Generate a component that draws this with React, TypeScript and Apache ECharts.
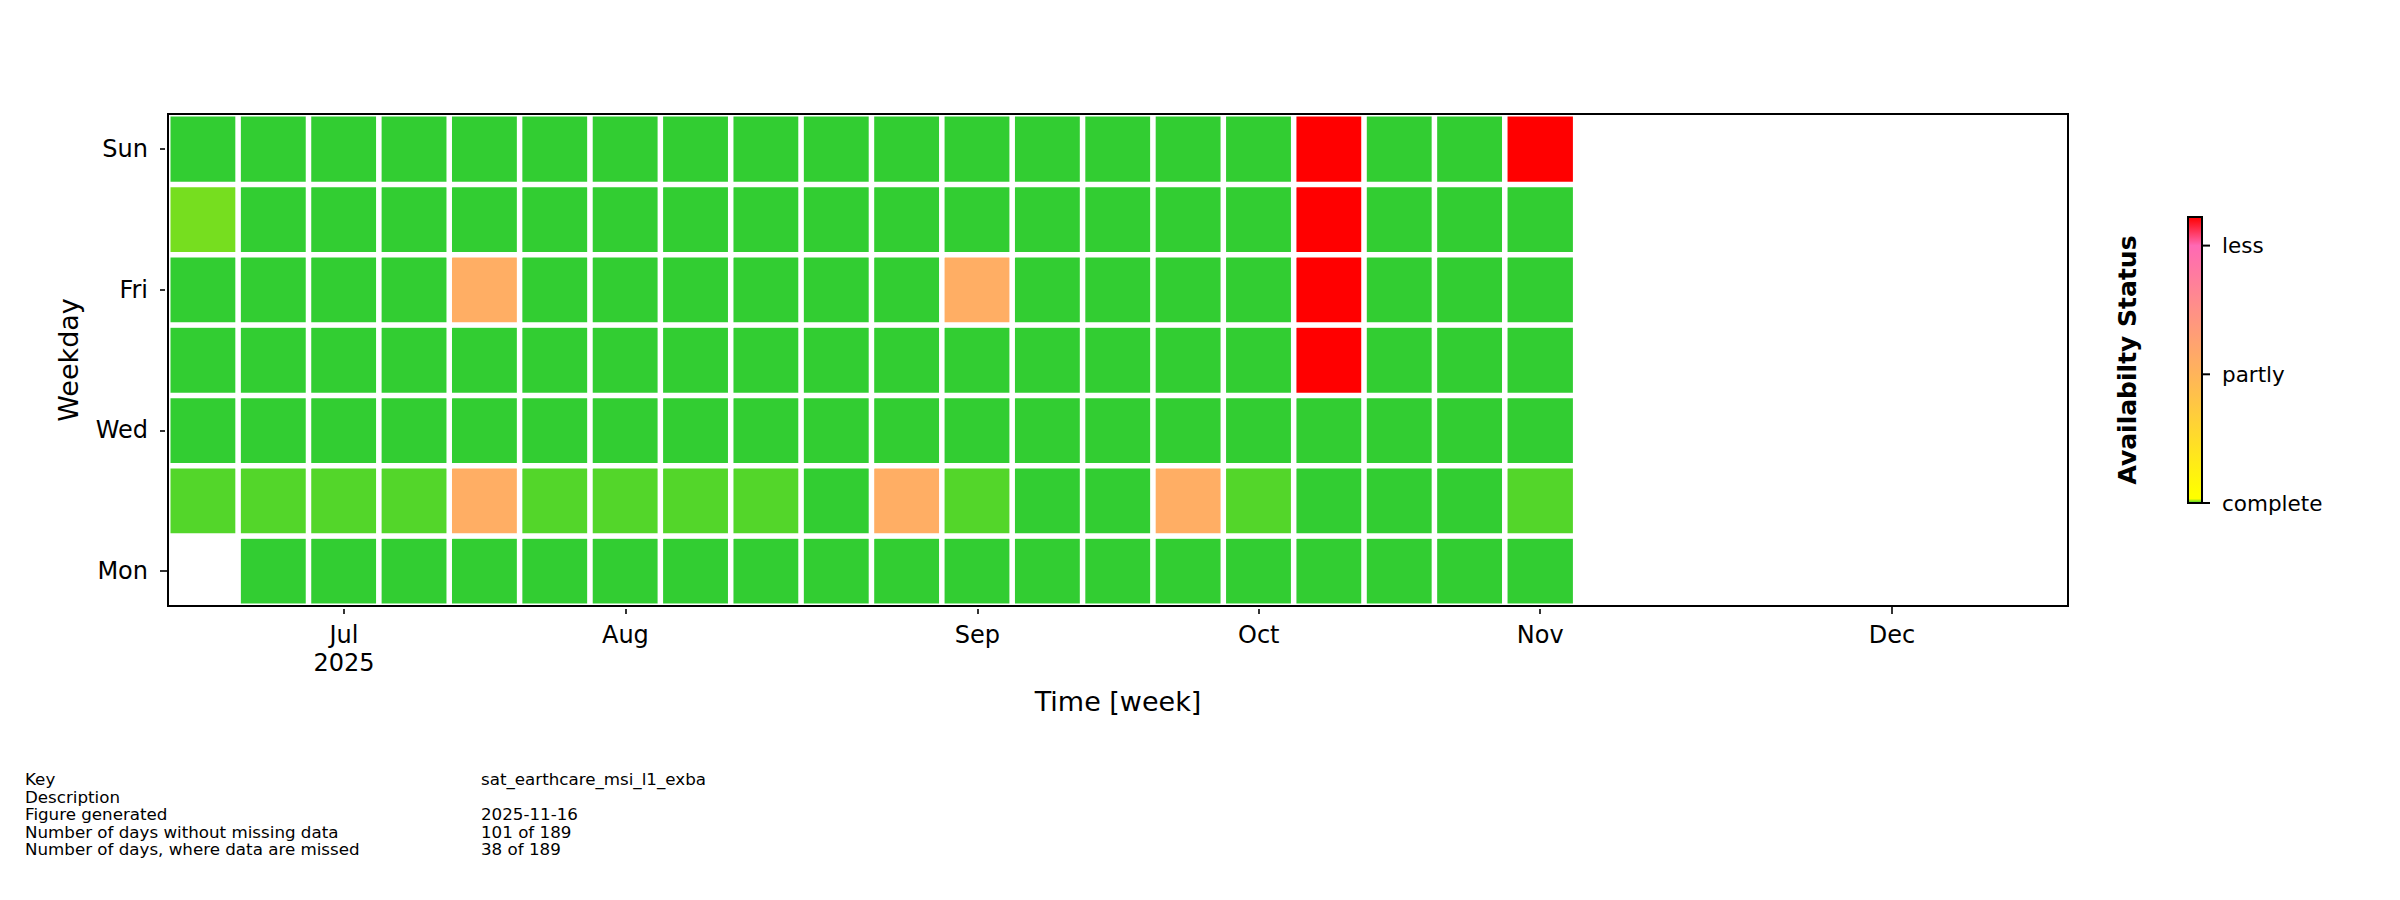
import React, { useEffect, useRef } from "react";
import * as echarts from "echarts";

// ---------- data ----------
const weekdays = ["Mon", "Tue", "Wed", "Thu", "Fri", "Sat", "Sun"];

const weekStarts = [
  "2025-06-16", "2025-06-23", "2025-06-30", "2025-07-07", "2025-07-14", "2025-07-21",
  "2025-07-28", "2025-08-04", "2025-08-11", "2025-08-18", "2025-08-25", "2025-09-01",
  "2025-09-08", "2025-09-15", "2025-09-22", "2025-09-29", "2025-10-06", "2025-10-13",
  "2025-10-20", "2025-10-27", "2025-11-03", "2025-11-10", "2025-11-17", "2025-11-24",
  "2025-12-01", "2025-12-08", "2025-12-15",
];

const monthTickWeeks = ["2025-06-30", "2025-07-28", "2025-09-01", "2025-09-29", "2025-10-27", "2025-12-01"];
const monthTickLabels = ["Jul\n2025", "Aug", "Sep", "Oct", "Nov", "Dec"];

// status codes: 0 complete, 1 / 2 nearly complete, 3 partly, 4 less
const statusMon = [null, 0, 0, 0, 0, 0, 0, 0, 0, 0, 0, 0, 0, 0, 0, 0, 0, 0, 0, 0];
const statusTue = [1, 1, 1, 1, 3, 1, 1, 1, 1, 0, 3, 1, 0, 0, 3, 1, 0, 0, 0, 1];
const statusWed = [0, 0, 0, 0, 0, 0, 0, 0, 0, 0, 0, 0, 0, 0, 0, 0, 0, 0, 0, 0];
const statusThu = [0, 0, 0, 0, 0, 0, 0, 0, 0, 0, 0, 0, 0, 0, 0, 0, 4, 0, 0, 0];
const statusFri = [0, 0, 0, 0, 3, 0, 0, 0, 0, 0, 0, 3, 0, 0, 0, 0, 4, 0, 0, 0];
const statusSat = [2, 0, 0, 0, 0, 0, 0, 0, 0, 0, 0, 0, 0, 0, 0, 0, 4, 0, 0, 0];
const statusSun = [0, 0, 0, 0, 0, 0, 0, 0, 0, 0, 0, 0, 0, 0, 0, 0, 4, 0, 0, 4];

const statusColors = ["#32CD32", "#53D62A", "#76DE1F", "#FFAE64", "#FF0000"];

const colorbarLabels = ["complete", "partly", "less"];

const infoKeys = [
  "Key",
  "Description",
  "Figure generated",
  "Number of days without missing data",
  "Number of days, where data are missed",
];
const infoValues = ["sat_earthcare_msi_l1_exba", "", "2025-11-16", "101 of 189", "38 of 189"];

// ---------- chart ----------
const FONT = "DejaVu Sans";

export default function App() {
  const ref = useRef<HTMLDivElement>(null);

  useEffect(() => {
    if (!ref.current) return;
    const chart = echarts.init(ref.current, undefined, { renderer: "svg" });

    const rows = [statusMon, statusTue, statusWed, statusThu, statusFri, statusSat, statusSun];
    const data: number[][] = [];
    rows.forEach((row, yi) => {
      row.forEach((s, xi) => {
        if (s !== null && s !== undefined) data.push([xi, yi, s as number]);
      });
    });

    const tickIdx = monthTickWeeks.map((w) => weekStarts.indexOf(w));
    const showTick = (i: number) => tickIdx.indexOf(i) >= 0;

    // grid geometry
    const gL = 168, gT = 114, gW = 1900, gH = 492;
    // colorbar geometry
    const cbX = 2188, cbY = 217, cbW = 14, cbH = 286;
    const cbTickY = [cbY + cbH, cbY + cbH * 0.55, cbY + cbH * 0.1];

    const graphics: any[] = [
      {
        type: "rect",
        z: 100,
        shape: { x: gL, y: gT, width: gW, height: gH },
        style: { fill: "none", stroke: "#000", lineWidth: 2 },
      },
      {
        type: "rect",
        z: 100,
        shape: { x: cbX, y: cbY, width: cbW, height: cbH },
        style: {
          fill: new echarts.graphic.LinearGradient(0, 0, 0, 1, [
            { offset: 0, color: "#FF0000" },
            { offset: 0.1, color: "#FF69B4" },
            { offset: 0.3, color: "#FF8C8C" },
            { offset: 0.55, color: "#FFB45A" },
            { offset: 0.97, color: "#FFFF00" },
            { offset: 0.985, color: "#FFFF00" },
            { offset: 1, color: "#32CD32" },
          ]),
          stroke: "#000",
          lineWidth: 2,
        },
      },
      {
        type: "text",
        z: 100,
        x: 2127,
        y: 360,
        rotation: Math.PI / 2,
        style: {
          text: "Availabilty Status",
          font: `bold 25px "${FONT}"`,
          fill: "#000",
          align: "center",
          verticalAlign: "middle",
        },
      },
    ];

    colorbarLabels.forEach((lbl, i) => {
      graphics.push({
        type: "line",
        z: 100,
        shape: { x1: cbX + cbW, y1: cbTickY[i], x2: cbX + cbW + 8, y2: cbTickY[i] },
        style: { stroke: "#000", lineWidth: 2 },
      });
      graphics.push({
        type: "text",
        z: 100,
        x: 2222,
        y: cbTickY[i],
        style: {
          text: lbl,
          font: `21.5px "${FONT}"`,
          fill: "#000",
          align: "left",
          verticalAlign: "middle",
        },
      });
    });

    infoKeys.forEach((k, i) => {
      const y = 779 + i * 17.6;
      graphics.push({
        type: "text",
        x: 25,
        y,
        style: { text: k, font: `16.7px "${FONT}"`, fill: "#000", align: "left", verticalAlign: "middle" },
      });
      graphics.push({
        type: "text",
        x: 481,
        y,
        style: { text: infoValues[i], font: `16.7px "${FONT}"`, fill: "#000", align: "left", verticalAlign: "middle" },
      });
    });

    chart.setOption({
      animation: false,
      backgroundColor: "#fff",
      textStyle: { fontFamily: FONT },
      grid: { left: gL, top: gT, width: gW, height: gH, containLabel: false, outerBoundsMode: "none" },
      xAxis: {
        type: "category",
        data: weekStarts,
        boundaryGap: true,
        name: "Time [week]",
        nameLocation: "middle",
        nameGap: 82,
        nameTextStyle: { fontSize: 27, color: "#000", fontFamily: FONT },
        axisLine: { show: true, lineStyle: { color: "#000", width: 2 } },
        axisTick: {
          show: true,
          alignWithLabel: true,
          interval: (i: number) => showTick(i),
          length: 8,
          lineStyle: { color: "#000", width: 1.6 },
        },
        axisLabel: {
          interval: (i: number) => showTick(i),
          formatter: (v: string, i: number) => {
            const k = tickIdx.indexOf(i);
            return k >= 0 ? monthTickLabels[k] : "";
          },
          fontSize: 24,
          lineHeight: 28,
          color: "#000",
          margin: 15,
          fontFamily: FONT,
        },
        splitLine: { show: false },
      },
      yAxis: {
        type: "category",
        data: weekdays,
        boundaryGap: true,
        name: "Weekday",
        nameLocation: "middle",
        nameGap: 86,
        nameTextStyle: { fontSize: 27, color: "#000", fontFamily: FONT },
        axisLine: { show: true, lineStyle: { color: "#000", width: 2 } },
        axisTick: {
          show: true,
          alignWithLabel: true,
          interval: 1,
          length: 8,
          lineStyle: { color: "#000", width: 1.6 },
        },
        axisLabel: { interval: 1, fontSize: 24, color: "#000", margin: 20, fontFamily: FONT },
        splitLine: { show: false },
      },
      visualMap: {
        type: "piecewise",
        show: false,
        dimension: 2,
        seriesIndex: 0,
        pieces: statusColors.map((c, i) => ({ value: i, color: c })),
      },
      series: [
        {
          type: "heatmap",
          data,
          itemStyle: { borderColor: "#fff", borderWidth: 5.5 },
          emphasis: { disabled: true },
        },
      ],
      graphic: graphics,
    });

    return () => chart.dispose();
  }, []);

  return (
    <div
      ref={ref}
      style={{ position: "fixed", left: 0, top: 0, width: 2400, height: 900, background: "#fff" }}
    />
  );
}
